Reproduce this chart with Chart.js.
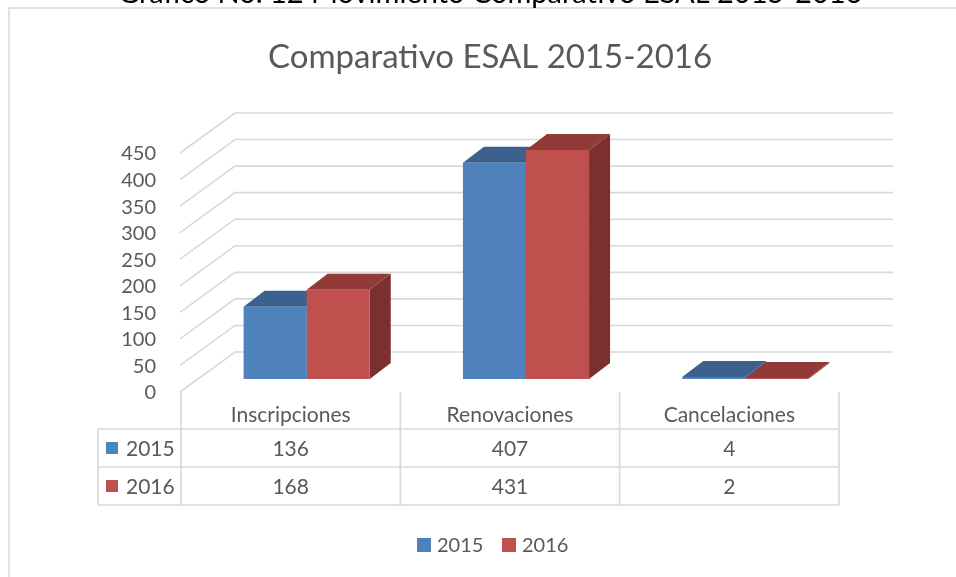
<!DOCTYPE html>
<html>
<head>
<meta charset="utf-8">
<script src="https://cdn.jsdelivr.net/npm/chart.js@4.4.1/dist/chart.umd.min.js"></script>
<style>
  body { margin: 0; background: #fff; }
  canvas { display: block; }
</style>
</head>
<body>
<canvas id="chart" width="956" height="577"></canvas>
<script>
// values
const categories = ['Inscripciones', 'Renovaciones', 'Cancelaciones'];
const seriesNames = ['2015', '2016'];
const values2015 = [136, 407, 4];
const values2016 = [168, 431, 2];
const yTicks = [0, 50, 100, 150, 200, 250, 300, 350, 400, 450];

const pageTitle = 'Gráfico No. 12 Movimiento Comparativo ESAL 2015-2016';
const chartTitle = 'Comparativo ESAL 2015-2016';

const frontColors = ['#4f81bd', '#c0504d'];
const topColors = ['#3c618f', '#923a38'];
const sideColors = ['#365a86', '#7b2f2e'];
const textColor = '#595959';
const lineColor = '#d9d9d9';
const font = 'Lato, "Open Sans", sans-serif';

// 3d offsets (wall depth, bar position, bar depth)
const WALL_DX = 55, WALL_DY = -40;
const BAR_DX = 16, BAR_DY = -13;
const DEPTH_DX = 21, DEPTH_DY = -16;

const threeD = {
    id: 'threeD',
    beforeDraw(chart) {
        const ctx = chart.ctx;
        const area = chart.chartArea;
        const y = chart.scales.y;
        ctx.save();
        ctx.fillStyle = '#fff';
        ctx.fillRect(0, 0, chart.width, chart.height);

        // frame of the chart object
        ctx.strokeStyle = lineColor;
        ctx.lineWidth = 1.5;
        ctx.beginPath();
        ctx.moveTo(9, chart.height + 5);
        ctx.lineTo(9, 8);
        ctx.lineTo(chart.width + 5, 8);
        ctx.stroke();

        // caption above (cut off at the top)
        ctx.fillStyle = '#000';
        ctx.font = '30px ' + font;
        const w = ctx.measureText(pageTitle).width;
        const size = 30 * 745 / w;
        ctx.font = size + 'px ' + font;
        ctx.textAlign = 'left';
        ctx.textBaseline = 'alphabetic';
        ctx.fillText(pageTitle, 118, 3);

        // chart title
        ctx.fillStyle = textColor;
        ctx.font = '33px ' + font;
        ctx.textAlign = 'center';
        ctx.fillText(chartTitle, 490, 68);

        // gridlines: side wall diagonals + back wall
        ctx.strokeStyle = lineColor;
        ctx.lineWidth = 1.6;
        yTicks.forEach(v => {
            const py = y.getPixelForValue(v);
            ctx.beginPath();
            ctx.moveTo(area.left - 1, py);
            ctx.lineTo(area.left - 1 + WALL_DX, py + WALL_DY);
            ctx.lineTo(893, py + WALL_DY);
            ctx.stroke();
        });

        // tick labels
        ctx.font = '20px ' + font;
        ctx.textAlign = 'right';
        ctx.textBaseline = 'middle';
        yTicks.forEach(v => {
            ctx.fillText(String(v), 156, y.getPixelForValue(v) + 1);
        });
        ctx.restore();
    },
    beforeDatasetsDraw(chart) {
        const ctx = chart.ctx;
        ctx.save();
        ctx.translate(BAR_DX, BAR_DY);
        categories.forEach((c, j) => {
            chart.data.datasets.forEach((ds, i) => {
                const el = chart.getDatasetMeta(i).data[j];
                const p = el.getProps(['x', 'y', 'base', 'width'], true);
                const L = p.x - p.width / 2, R = p.x + p.width / 2;
                const T = p.y, B = p.base;
                ctx.fillStyle = sideColors[i];
                ctx.beginPath();
                ctx.moveTo(R, T);
                ctx.lineTo(R + DEPTH_DX, T + DEPTH_DY);
                ctx.lineTo(R + DEPTH_DX, B + DEPTH_DY);
                ctx.lineTo(R, B);
                ctx.closePath();
                ctx.fill();
                ctx.fillStyle = topColors[i];
                ctx.beginPath();
                ctx.moveTo(L, T);
                ctx.lineTo(R, T);
                ctx.lineTo(R + DEPTH_DX, T + DEPTH_DY);
                ctx.lineTo(L + DEPTH_DX, T + DEPTH_DY);
                ctx.closePath();
                ctx.fill();
            });
        });
    },
    afterDatasetsDraw(chart) {
        chart.ctx.restore();
    },
    afterDraw(chart) {
        const ctx = chart.ctx;
        const area = chart.chartArea;
        const x = chart.scales.x;
        const colW = (area.right - area.left) / categories.length;
        const top = area.bottom;
        const rows = [top, 429, 467, 505];
        const tableLeft = 98;
        ctx.save();
        ctx.strokeStyle = lineColor;
        ctx.lineWidth = 1.6;
        // verticals
        for (let k = 0; k <= categories.length; k++) {
            const px = area.left + k * colW;
            ctx.beginPath();
            ctx.moveTo(px, top);
            ctx.lineTo(px, rows[3]);
            ctx.stroke();
        }
        ctx.beginPath();
        ctx.moveTo(tableLeft, rows[1]);
        ctx.lineTo(tableLeft, rows[3]);
        ctx.stroke();
        for (let r = 1; r < rows.length; r++) {
            ctx.beginPath();
            ctx.moveTo(tableLeft, rows[r]);
            ctx.lineTo(area.right, rows[r]);
            ctx.stroke();
        }

        ctx.fillStyle = textColor;
        ctx.font = '21px ' + font;
        ctx.textBaseline = 'middle';
        ctx.textAlign = 'center';
        const seriesValues = [values2015, values2016];
        categories.forEach((c, j) => {
            const cx = x.getPixelForValue(j);
            ctx.fillText(c, cx, 415);
            seriesValues.forEach((vals, i) => {
                ctx.fillText(String(vals[j]), cx, (rows[i + 1] + rows[i + 2]) / 2 + 1);
            });
        });
        // series keys in the table
        ctx.textAlign = 'left';
        seriesNames.forEach((n, i) => {
            const cy = (rows[i + 1] + rows[i + 2]) / 2;
            ctx.fillStyle = frontColors[i];
            ctx.fillRect(106, cy - 6, 12, 12);
            ctx.fillStyle = textColor;
            ctx.fillText(n, 126, cy + 1);
        });

        // legend
        const legX = [417, 502];
        ctx.font = '20px ' + font;
        seriesNames.forEach((n, i) => {
            ctx.fillStyle = frontColors[i];
            ctx.fillRect(legX[i], 538, 14, 14);
            ctx.fillStyle = textColor;
            ctx.fillText(n, legX[i] + 20, 546);
        });
        ctx.restore();
    }
};

const chart = new Chart(document.getElementById('chart'), {
    type: 'bar',
    data: {
        labels: categories,
        datasets: [
            { label: seriesNames[0], data: values2015, backgroundColor: frontColors[0] },
            { label: seriesNames[1], data: values2016, backgroundColor: frontColors[1] }
        ]
    },
    options: {
        responsive: false,
        animation: false,
        events: [],
        categoryPercentage: 0.575,
        barPercentage: 1,
        clip: false,
        layout: { padding: { left: 181, right: 117, top: 153, bottom: 185 } },
        scales: {
            x: { display: false },
            y: { display: false, min: 0, max: 450, ticks: { stepSize: 50 } }
        },
        plugins: {
            legend: { display: false },
            title: { display: false },
            tooltip: { enabled: false }
        }
    },
    plugins: [threeD]
});
</script>
</body>
</html>
